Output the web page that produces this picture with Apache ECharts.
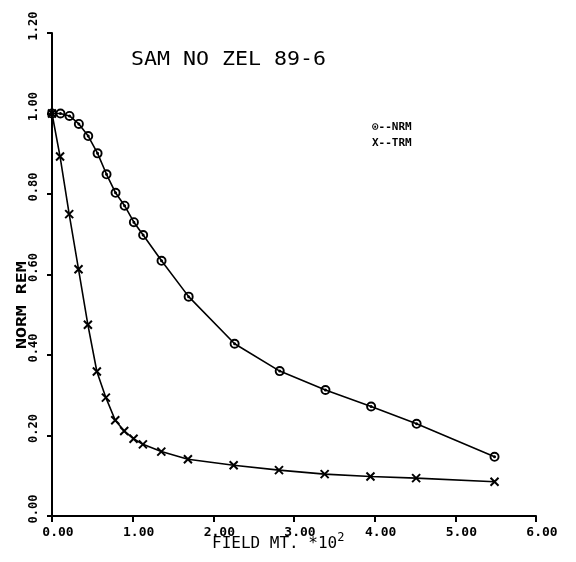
<!DOCTYPE html>
<html>
<head>
<meta charset="utf-8">
<script src="https://cdn.jsdelivr.net/npm/echarts@6/dist/echarts.min.js"></script>
<style>
  html, body { margin: 0; padding: 0; background: #fff; }
  #main { width: 576px; height: 562px; }
</style>
</head>
<body>
<div id="main"></div>
<script>
// NRM curve (circles)
var nrmX = [0, 0.105, 0.217, 0.333, 0.449, 0.565, 0.676, 0.788, 0.90, 1.015, 1.13, 1.358, 1.694, 2.264, 2.823, 3.39, 3.956, 4.52, 5.486];
var nrmY = [1.00, 1.00, 0.994, 0.974, 0.944, 0.901, 0.849, 0.803, 0.771, 0.730, 0.698, 0.634, 0.545, 0.428, 0.360, 0.313, 0.272, 0.229, 0.147];
// TRM curve (crosses)
var trmX = [0, 0.10, 0.213, 0.329, 0.445, 0.556, 0.668, 0.784, 0.895, 1.011, 1.127, 1.355, 1.685, 2.252, 2.814, 3.38, 3.948, 4.514, 5.486];
var trmY = [1.00, 0.893, 0.750, 0.613, 0.475, 0.359, 0.294, 0.238, 0.211, 0.192, 0.178, 0.160, 0.141, 0.126, 0.114, 0.104, 0.098, 0.094, 0.085];

var titleText = 'SAM NO ZEL 89-6';
var legendLines = ['\u2299--NRM', 'X--TRM'];

var FONT = '"DejaVu Sans Mono", "Liberation Mono", monospace';

// 把两个数组拼成 [x,y] 点
function toPairs(xs, ys) {
	var out = [];
	for (var i = 0; i < xs.length; i++) {
		out.push([xs[i], ys[i]]);
	}
	return out;
}

// 带中心点的圆圈 / 叉号
var ringPath = 'path://M0,-10 A10,10 0 1,1 0,10 A10,10 0 1,1 0,-10 Z M0,-6.2 A6.2,6.2 0 1,0 0,6.2 A6.2,6.2 0 1,0 0,-6.2 Z M0,-3 A3,3 0 1,1 0,3 A3,3 0 1,1 0,-3 Z';
var crossPath = 'path://M0,0 L10,10 M10,0 L0,10';

var myChart = echarts.init(document.getElementById('main'), null, { renderer: 'canvas' });

myChart.setOption({
	animation: false,
	backgroundColor: '#fff',
	grid: { left: 52, right: 40, top: 33, bottom: 46 },
	xAxis: {
		type: 'value',
		min: 0,
		max: 6,
		interval: 1,
		splitLine: { show: false },
		axisLine: { onZero: false, lineStyle: { color: '#000', width: 2 } },
		axisTick: { inside: false, length: 6, lineStyle: { color: '#000', width: 2 } },
		axisLabel: {
			color: '#000',
			fontFamily: FONT,
			fontWeight: 'bold',
			fontSize: 13,
			margin: 10,
			padding: [0, 0, 0, 12],
			formatter: function (v) { return v.toFixed(2); }
		}
	},
	yAxis: {
		type: 'value',
		min: 0,
		max: 1.2,
		interval: 0.2,
		splitLine: { show: false },
		axisLine: { onZero: false, lineStyle: { color: '#000', width: 2 } },
		axisTick: { inside: false, length: 5, lineStyle: { color: '#000', width: 2 } },
		axisLabel: {
			color: '#000',
			fontFamily: FONT,
			fontWeight: 'bold',
			fontSize: 12,
			rotate: 90,
			margin: 12,
			padding: [0, 0, 0, 14],
			formatter: function (v) { return v.toFixed(2); }
		}
	},
	series: [{
		name: 'NRM',
		type: 'line',
		data: toPairs(nrmX, nrmY),
		symbol: ringPath,
		symbolSize: 10,
		lineStyle: { color: '#000', width: 1.6 },
		itemStyle: { color: '#000', borderWidth: 0 },
		z: 3
	}, {
		name: 'TRM',
		type: 'line',
		data: toPairs(trmX, trmY),
		symbol: crossPath,
		symbolSize: 8,
		lineStyle: { color: '#000', width: 1.6 },
		itemStyle: { color: '#000', borderColor: '#000', borderWidth: 2 },
		z: 3
	}],
	graphic: [{
		type: 'text',
		left: 131,
		top: 50,
		scaleX: 1.08,
		style: {
			text: titleText,
			font: 'normal 20px ' + FONT,
			fill: '#000'
		}
	}, {
		type: 'text',
		left: 372,
		top: 119,
		style: {
			text: legendLines.join('\n'),
			font: 'bold 11px ' + FONT,
			lineHeight: 16,
			fill: '#000'
		}
	}, {
		// y 轴名称
		type: 'text',
		x: 15,
		y: 349,
		rotation: Math.PI / 2,
		scaleX: 1.3,
		style: {
			text: 'NORM REM',
			font: 'bold 14px ' + FONT,
			fill: '#000'
		}
	}, {
		// x 轴名称，带上标
		type: 'text',
		left: 212,
		top: 532,
		style: {
			text: '{a|FIELD MT. *10}{s|2}',
			rich: {
				a: { font: 'normal 16px ' + FONT, fill: '#000', verticalAlign: 'bottom' },
				s: { font: 'normal 12px ' + FONT, fill: '#000', verticalAlign: 'top', padding: [0, 0, 8, 0] }
			}
		}
	}]
});
</script>
</body>
</html>
